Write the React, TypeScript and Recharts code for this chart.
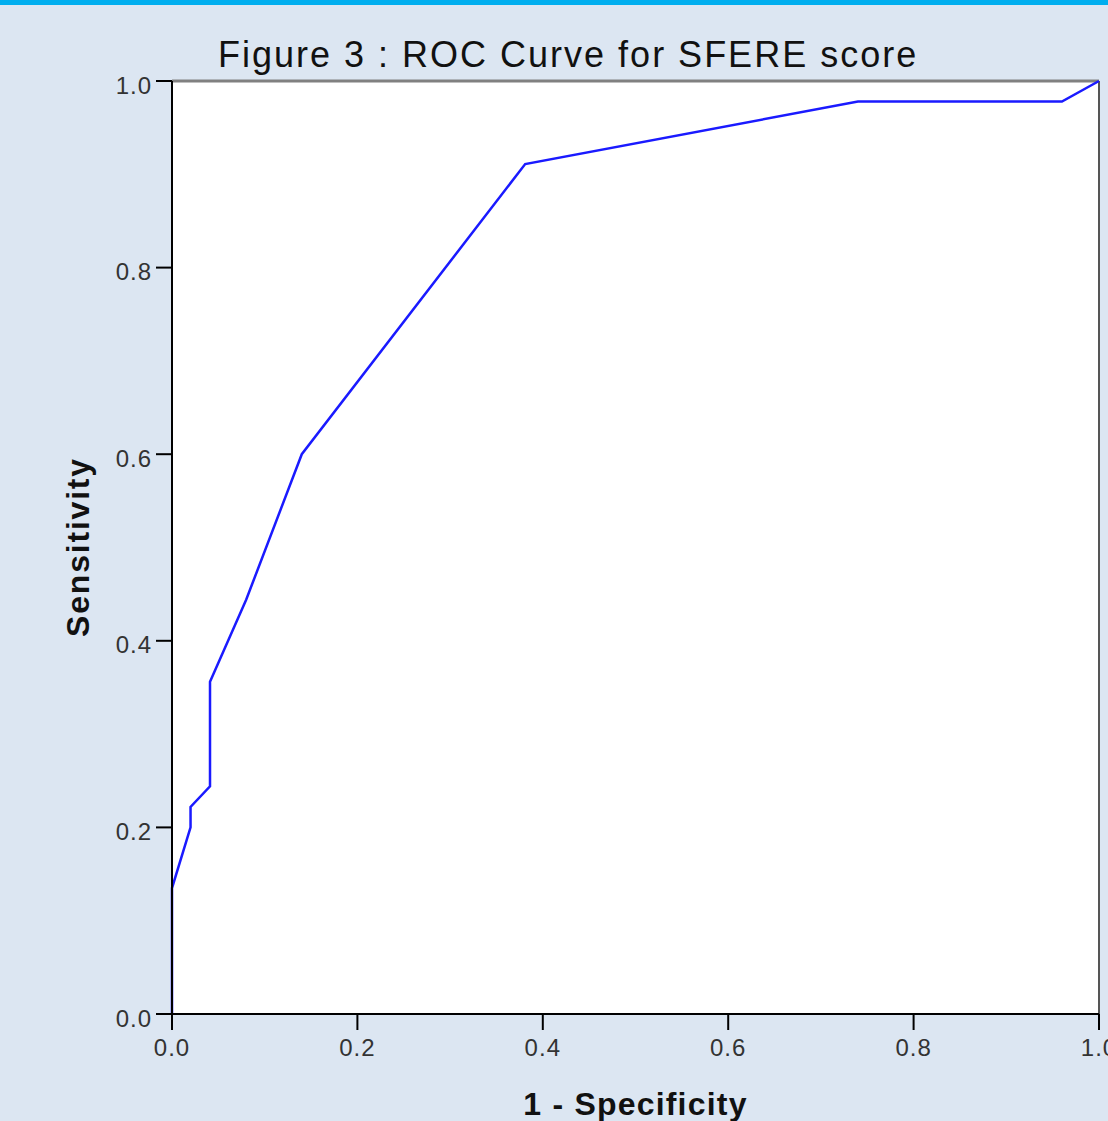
import { LineChart, Line, XAxis, YAxis, CartesianGrid, ReferenceLine } from 'recharts';

// ROC curve points
const fpr = [0, 0, 0.02, 0.02, 0.041, 0.041, 0.08, 0.14, 0.381, 0.74, 0.96, 1];
const tpr = [0, 0.135, 0.2, 0.222, 0.244, 0.356, 0.444, 0.6, 0.911, 0.978, 0.978, 1];
const axisTicks = [0, 0.2, 0.4, 0.6, 0.8, 1];

const rocData = fpr.map((x, i) => ({ x, y: tpr[i] }));

const FONT = '"Liberation Sans", Arial, sans-serif';
const fmt = (v: number) => v.toFixed(1);

export default function App() {
  return (
    <div style={{
      position: 'absolute', left: 0, top: 0, width: 1108, height: 1121,
      background: '#dce6f2', overflow: 'hidden', fontFamily: FONT,
    }}>
      <div style={{ position: 'absolute', left: 0, top: 0, width: 1108, height: 5, background: '#00aeef' }} />
      <div style={{
        position: 'absolute', left: 218, top: 33, fontSize: 36, color: '#111', whiteSpace: 'nowrap',
        lineHeight: '44px', letterSpacing: 2,
      }}>
        Figure 3 : ROC Curve for SFERE score
      </div>
      <div style={{
        position: 'absolute', left: 78, top: 547, transform: 'translate(-50%, -50%) rotate(-90deg)',
        fontSize: 32, fontWeight: 700, color: '#111', whiteSpace: 'nowrap', letterSpacing: 1.8,
      }}>
        Sensitivity
      </div>
      <LineChart width={1108} height={1121} data={rocData}
        margin={{ top: 81, right: 9, left: 0, bottom: 0 }}>
        <CartesianGrid fill="#ffffff" horizontal={false} vertical={false} />
        <XAxis
          dataKey="x" type="number" domain={[0, 1]} ticks={axisTicks}
          tickFormatter={fmt} height={107} tickSize={16} tickMargin={9}
          axisLine={{ stroke: '#000', strokeWidth: 2 }} tickLine={{ stroke: '#000', strokeWidth: 2 }}
          tick={{ fill: '#333', fontSize: 24, fontFamily: FONT, letterSpacing: 1 }}
          interval={0}
          label={{ value: '1 - Specificity', position: 'insideBottom', offset: 6, fill: '#111', fontSize: 32, fontWeight: 700, fontFamily: FONT, letterSpacing: 1.2 }}
        />
        <YAxis
          dataKey="y" type="number" domain={[0, 1]} ticks={axisTicks}
          tickFormatter={fmt} width={172} tickSize={16} tickMargin={4}
          axisLine={{ stroke: '#000', strokeWidth: 2 }} tickLine={{ stroke: '#000', strokeWidth: 2 }}
          tick={{ fill: '#333', fontSize: 24, fontFamily: FONT, dy: 4, letterSpacing: 1 }}
          interval={0}
        />
        <ReferenceLine y={1} stroke="#808080" strokeWidth={3} />
        <ReferenceLine x={1} stroke="#555" strokeWidth={2} />
        <Line
          dataKey="y" type="linear" stroke="#1a1aff" strokeWidth={2.5}
          dot={false} activeDot={false} isAnimationActive={false}
        />
      </LineChart>
    </div>
  );
}
